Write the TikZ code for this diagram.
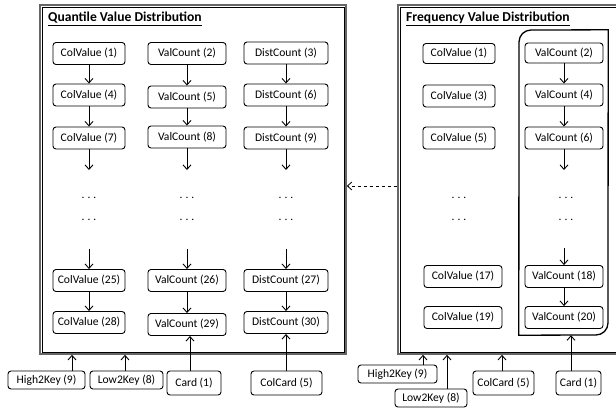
\documentclass[tikz,border=0pt]{standalone}
\usepackage{fontspec}
\setmainfont{Carlito}
\usetikzlibrary{arrows.meta}
\begin{document}
\begin{tikzpicture}[x=1pt,y=-1pt,
  nd/.style={draw, rounded corners=3pt, line width=0.9pt, minimum height=22pt, inner sep=0pt, font=\fontsize{11.6}{13}\selectfont},
  arr/.style={-{Straight Barb[length=4.5pt,width=8pt]}, line width=0.9pt},
  frame/.style={draw=black!60, line width=1.6pt, inner sep=0pt},
  dots/.style={font=\fontsize{11.5}{13}\selectfont, anchor=base, inner sep=0pt},
  ttl/.style={font=\fontsize{13.6}{15}\selectfont\bfseries, anchor=west, inner sep=0pt}]
\useasboundingbox (0,0) rectangle (616,408);
\clip (0,0) rectangle (616,408);
\fill[white] (0,0) rectangle (616,408);

% frames
\node[frame, minimum width=306pt, minimum height=349pt] (qbox) at (193,179.5) {};
\draw[line width=0.6pt] ([shift={(3pt,-3pt)}]qbox.north west) rectangle ([shift={(-3pt,3pt)}]qbox.south east);
\node[frame, minimum width=242pt, minimum height=349pt] (fbox) at (519,179.5) {};
\draw[line width=0.6pt] ([shift={(3pt,-3pt)}]fbox.north west) rectangle ([shift={(-3pt,3pt)}]fbox.south east);

\node[ttl] (qt) at (48,19) {\underline{Quantile Value Distribution}};
\node[ttl] (ft) at (406,19) {\underline{Frequency Value Distribution}};

% inner rounded box (right)
\node[minimum width=89pt, minimum height=305pt, inner sep=0pt] (vbox) at (563.5,182.5) {};
\draw[line width=1.3pt] (vbox.south west) -- (519,42) arc[start angle=180,end angle=270,radius=12] -- (vbox.north east) -- (608,323) arc[start angle=0,end angle=90,radius=12] -- cycle;

% left: column 1
\node[nd, minimum width=72pt] (q1) at (89,53.5) {ColValue (1)};
\node[nd, minimum width=72pt] (q4) at (89,95) {ColValue (4)};
\node[nd, minimum width=72pt] (q7) at (89,138) {ColValue (7)};
\node[nd, minimum width=72pt] (q25) at (89,280.5) {ColValue (25)};
\node[nd, minimum width=72pt] (q28) at (89,322.5) {ColValue (28)};
% column 2
\node[nd, minimum width=78pt] (v2) at (187,53.5) {ValCount (2)};
\node[nd, minimum width=78pt] (v5) at (187,97) {ValCount (5)};
\node[nd, minimum width=78pt] (v8) at (187,137) {ValCount (8)};
\node[nd, minimum width=78pt] (v26) at (187,280.5) {ValCount (26)};
\node[nd, minimum width=78pt] (v29) at (187,324.5) {ValCount (29)};
% column 3
\node[nd, minimum width=84pt] (d3) at (286,53) {DistCount (3)};
\node[nd, minimum width=84pt] (d6) at (286,95) {DistCount (6)};
\node[nd, minimum width=84pt] (d9) at (286,138) {DistCount (9)};
\node[nd, minimum width=84pt] (d27) at (286,280.5) {DistCount (27)};
\node[nd, minimum width=84pt] (d30) at (286,322.5) {DistCount (30)};

\newcommand{\mydots}{.\hspace{3pt}.\hspace{3pt}.}
\foreach \x/\n in {89/a,187/b,286/c}{
  \coordinate (e\n) at (\x,170);
  \coordinate (s\n) at (\x,249);
  \node[dots] (da\n) at (\x,198) {\mydots};
  \node[dots] (db\n) at (\x,220) {\mydots};
}
\draw[arr] (q1) -- (q4); \draw[arr] (q4) -- (q7); \draw[arr] (q7) -- (ea);
\draw[arr] (sa) -- (q25); \draw[arr] (q25) -- (q28);
\draw[arr] (v2) -- (v5); \draw[arr] (v5) -- (v8); \draw[arr] (v8) -- (eb);
\draw[arr] (sb) -- (v26); \draw[arr] (v26) -- (v29);
\draw[arr] (d3) -- (d6); \draw[arr] (d6) -- (d9); \draw[arr] (d9) -- (ec);
\draw[arr] (sc) -- (d27); \draw[arr] (d27) -- (d30);

% right: column 1
\node[nd, minimum width=72pt, minimum height=20pt] (c1) at (459,53.5) {ColValue (1)};
\node[nd, minimum width=72pt] (c3) at (459,96) {ColValue (3)};
\node[nd, minimum width=72pt] (c5) at (459,138) {ColValue (5)};
\node[nd, minimum width=78pt] (c17) at (463,276.5) {ColValue (17)};
\node[nd, minimum width=78pt] (c19) at (463,317.5) {ColValue (19)};
% right: column 2
\node[nd, minimum width=78pt, minimum height=20pt] (r2) at (564,53) {ValCount (2)};
\node[nd, minimum width=78pt] (r4) at (564,95) {ValCount (4)};
\node[nd, minimum width=78pt] (r6) at (564,138) {ValCount (6)};
\node[nd, minimum width=78pt] (r18) at (564,276.5) {ValCount (18)};
\node[nd, minimum width=78pt] (r20) at (564,317.5) {ValCount (20)};
\node[dots] (rda) at (459,198) {\mydots};
\node[dots] (rdb) at (459,220) {\mydots};
\node[dots] (rdc) at (566,198) {\mydots};
\node[dots] (rdd) at (566,220) {\mydots};
\coordinate (er) at (564,170);
\coordinate (sr) at (564,248);
\draw[arr] (r2) -- (r4); \draw[arr] (r4) -- (r6); \draw[arr] (r6) -- (er);
\draw[arr] (sr) -- (r18); \draw[arr] (r18) -- (r20);

% bottom left
\node[nd, minimum width=77pt, minimum height=18pt] (h2kL) at (46.5,380) {High2Key (9)};
\node[nd, minimum width=73pt, minimum height=18pt] (l2kL) at (126.5,380) {Low2Key (8)};
\node[nd, minimum width=54pt, minimum height=24pt] (cardL) at (194,383) {Card (1)};
\node[nd, minimum width=71pt, minimum height=24pt] (ccL) at (286.5,383) {ColCard (5)};
\draw[arr] ([xshift=25.5pt]h2kL.north) -- ([xshift=25.5pt]h2kL.north |- qbox.south);
\draw[arr] ([xshift=-1.5pt]l2kL.north) -- ([xshift=-1.5pt]l2kL.north |- qbox.south);
\draw[arr] ([xshift=-4pt]cardL.north) -- ([xshift=-4pt]cardL.north |- v29.south);
\draw[arr] (ccL.north -| d30.south) -- (d30.south);

% bottom right
\node[nd, minimum width=79pt, minimum height=18pt] (h2kR) at (397.5,374) {High2Key (9)};
\node[nd, minimum width=72pt, minimum height=18pt] (l2kR) at (431,398) {Low2Key (8)};
\node[nd, minimum width=61pt, minimum height=24pt] (ccR) at (503.5,383) {ColCard (5)};
\node[nd, minimum width=45pt, minimum height=24pt] (cardR) at (578.5,383) {Card (1)};
\draw[arr] ([xshift=25.5pt]h2kR.north) -- ([xshift=25.5pt]h2kR.north |- fbox.south);
\draw[arr] ([xshift=16pt]l2kR.north) -- ([xshift=16pt]l2kR.north |- fbox.south);
\draw[arr] ([xshift=-1.5pt]ccR.north) -- ([xshift=-1.5pt]ccR.north |- fbox.south);
\draw[arr] ([xshift=-7.5pt]cardR.north) -- ([xshift=-7.5pt]cardR.north |- vbox.south);

% dashed link
\coordinate (dy) at (370,186);
\draw[arr, dashed, line width=0.8pt] (fbox.west |- dy) -- (qbox.east |- dy);
\end{tikzpicture}
\end{document}
